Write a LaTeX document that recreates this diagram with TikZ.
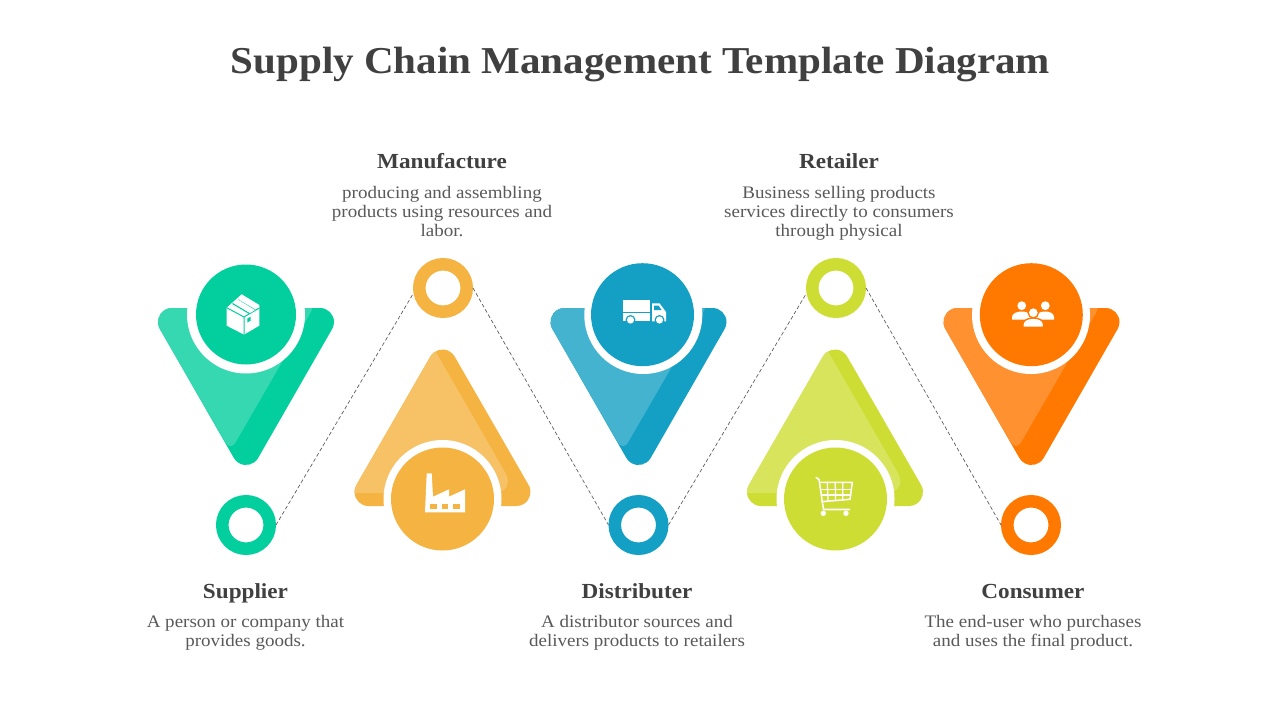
\documentclass[tikz,border=0pt]{standalone}
\usepackage{fontspec}
\setmainfont{Liberation Serif}[FakeStretch=1.08]
\usetikzlibrary{calc}
\definecolor{tc}{HTML}{404040}
\definecolor{bodyc}{HTML}{595959}
\definecolor{cg}{HTML}{03CE9E}\definecolor{lg}{HTML}{35D8B1}
\definecolor{cy}{HTML}{F5B342}\definecolor{ly}{HTML}{F6C265}
\definecolor{cb}{HTML}{14A0C4}\definecolor{lb}{HTML}{43B3CF}
\definecolor{cl}{HTML}{CEDD33}\definecolor{ll}{HTML}{D8E45C}
\definecolor{co}{HTML}{FF7800}\definecolor{lo}{HTML}{FF9130}
\tikzset{
  x=0.75pt,y=-0.75pt,
  titletext/.style={text=tc,font=\fontsize{28.5}{32}\selectfont\bfseries,inner sep=0,anchor=base},
  headtext/.style={text=tc,font=\fontsize{16.1}{19}\selectfont\bfseries,inner sep=0,anchor=base},
  bodytext/.style={text=bodyc,font=\fontsize{13.2}{14.25}\selectfont,inner sep=0,align=center,anchor=north},
  ringnode/.style={circle,draw=#1,line width=9.4pt,fill=white,minimum size=35.6pt,inner sep=0},
  dashline/.style={draw=black!65,line width=0.5pt,dash pattern=on 2.8pt off 1.8pt},
  discnode/.style={circle,fill=#1,draw=none,inner sep=0},
  halo/.style={circle,fill=white,draw=none,inner sep=0,minimum size=88.5pt},
  iconw/.style={fill=white,draw=none}
}
\newcommand{\downpath}{(-86.12,329) arc[start angle=150,end angle=270,radius=14] -- (74,308) arc[start angle=270,end angle=390,radius=14] -- (12.12,458) arc[start angle=30,end angle=150,radius=14] -- cycle}
\newcommand{\uppath}{(86.12,485) arc[start angle=-30,end angle=90,radius=14] -- (-74,506) arc[start angle=90,end angle=210,radius=14] -- (-12.12,356.5) arc[start angle=210,end angle=330,radius=14] -- cycle}
\newcommand{\triangledown}[3]{% centre x, main, light
  \begin{scope}[shift={(#1,0)}]
    \path[fill=#2] \downpath;
    \begin{scope}
      \clip \downpath;
      \path[fill=#3] (-107,293) [rounded corners=18pt] -- (76,293) [rounded corners=7.5pt] -- (-15.5,451.2) [sharp corners] -- cycle;
    \end{scope}
  \end{scope}}
\newcommand{\triangleup}[3]{%
  \begin{scope}[shift={(#1,0)}]
    \path[fill=#2] \uppath;
    \begin{scope}
      \clip \uppath;
      \path[fill=#3] (-142,493) [rounded corners=18pt] -- (74.5,493) -- (-40.5,293) [sharp corners] -- (-142,293) -- cycle;
    \end{scope}
  \end{scope}}
\begin{document}
\begin{tikzpicture}
\useasboundingbox (0,0) rectangle (1280,720);
\fill[white] (0,0) rectangle (1280,720);

\node[titletext] (title) at (640.5,74) {Supply Chain Management Template Diagram};

% shapes
\triangledown{246}{cg}{lg}
\triangleup{442.5}{cy}{ly}
\triangledown{638.5}{cb}{lb}
\triangleup{835}{cl}{ll}
\triangledown{1031.5}{co}{lo}

% halos and discs
\node[halo] (h1) at (246,314.5) {};
\node[halo] (h2) at (442.5,499) {};
\node[halo] (h3) at (643.3,315) {};
\node[halo] (h4) at (835.5,499) {};
\node[halo] (h5) at (1031,315) {};
\node[discnode=cg,minimum size=75pt] (d1) at (246,314.5) {};
\node[discnode=cy,minimum size=77.25pt] (d2) at (442.5,499) {};
\node[discnode=cb,minimum size=77.25pt] (d3) at (642.5,314.7) {};
\node[discnode=cl,minimum size=77.25pt] (d4) at (835.5,499) {};
\node[discnode=co,minimum size=77.25pt] (d5) at (1031.3,314.7) {};

% rings
\node[ringnode=cg] (r1) at (246,525) {};
\node[ringnode=cy] (r2) at (443,288) {};
\node[ringnode=cb] (r3) at (638.5,525) {};
\node[ringnode=cl] (r4) at (836,288) {};
\node[ringnode=co] (r5) at (1031,525) {};
\path[dashline] (r1.east) -- (r2.190);
\path[dashline] (r2.east) -- (r3.west);
\path[dashline] (r3.east) -- (r4.190);
\path[dashline] (r4.east) -- (r5.west);

% box icon
\path[iconw] (241.7,294.3) -- (259.3,305) -- (259.3,325.7) -- (244.5,334.3) -- (243.5,334.3) -- (226.7,325.7) -- (226.7,307.7) -- cycle;
\draw[cg,line width=0.75pt] (226.7,307.7) -- (244,317) -- (259.3,308) (244,317) -- (244,334.3);
\draw[cg,line width=0.9pt] (232.5,303.5) -- (249.5,313.5);
\draw[cg,line width=0.9pt] (238,300) -- (255,310);
\path[iconw] (233.5,303) -- (238.5,300) -- (255,310) -- (250,313) -- cycle;
\fill[cg] (247.3,318.5) -- (250.5,316.8) -- (250.5,320.8) -- (247.3,322.5) -- cycle;

% factory icon
\path[iconw] (425,512.3) -- (426.7,473.3) -- (431.7,473.3) -- (433,496.7) -- (449,489.3) -- (449,496.7) -- (465,489.3) -- (465,512.3) -- cycle;
\fill[cy] (430,503.7) rectangle (436.7,509);
\fill[cy] (441.7,503.7) rectangle (448.3,509);
\fill[cy] (453.3,503.7) rectangle (460,509);

% truck icon
\path[iconw] (623,300) rectangle (650,311.5);
\path[iconw] (623,313) rectangle (650,321.3);
\path[iconw] (652,303.3) -- (659.5,303.3) -- (666,312) -- (666,321.3) -- (652,321.3) -- cycle;
\fill[cb] (654,305.5) -- (658.5,305.5) -- (661.5,310) -- (654,310) -- cycle;
\fill[cb] (630.5,320) circle[radius=5];
\fill[cb] (659.5,320) circle[radius=5];
\fill[white] (630.5,320) circle[radius=3.6];
\fill[white] (659.5,320) circle[radius=3.6];

% cart icon
\begin{scope}[white,line width=1.15pt,line cap=round]
\draw (816,477.5) -- (819,479.5) -- (823.5,509.5) -- (849.5,509.5);
\draw (820,482.3) -- (852.3,482.3) -- (850,499.3) -- (821.7,501.7);
\draw[line width=0.95pt] (827.3,482.3) -- (828,500.8) (835.3,482.3) -- (835.5,500.2) (842.7,482.3) -- (842.7,499.9);
\draw[line width=0.95pt] (820.5,489.3) -- (851.5,489.3) (821.2,495) -- (850.7,495);
\fill (823.3,513.3) circle[radius=2.7];
\fill (846,513.3) circle[radius=2.7];
\end{scope}

% people icon
\fill[white] (1021.7,305.7) circle[radius=4.4];
\fill[white] (1045.3,305.7) circle[radius=4.4];
\path[iconw] (1012,319.5) -- (1012,317) .. controls (1012,313) and (1018,311.5) .. (1021.7,311.5) .. controls (1026,311.5) and (1031,313) .. (1031,317) -- (1031,319.5) -- cycle;
\path[iconw] (1036,319.5) -- (1036,317) .. controls (1036,313) and (1041,311.5) .. (1045.3,311.5) .. controls (1049,311.5) and (1054,313) .. (1054,317) -- (1054,319.5) -- cycle;
\path[fill=white,draw=co,line width=1pt] (1023,327.3) -- (1023,324) .. controls (1023,320) and (1029,318) .. (1033.3,318) .. controls (1038,318) and (1043.5,320) .. (1043.5,324) -- (1043.5,327.3) -- cycle;
\path[fill=white,draw=co,line width=1pt] (1033.3,312.7) circle[radius=5.2];

% labels
\node[headtext] (t1) at (245.5,598) {Supplier};
\node[bodytext] (b1) at (245.5,615) {A person or company that\\provides goods.};
\node[headtext] (t2) at (442,169) {Manufacture};
\node[bodytext] (b2) at (442,186) {producing and assembling\\products using resources and\\labor.};
\node[headtext] (t3) at (637,598) {Distributer};
\node[bodytext] (b3) at (637,615) {A distributor sources and\\delivers products to retailers};
\node[headtext] (t4) at (839,169) {Retailer};
\node[bodytext] (b4) at (839,186) {Business selling products\\services directly to consumers\\through physical};
\node[headtext] (t5) at (1033,598) {Consumer};
\node[bodytext] (b5) at (1033,615) {The end-user who purchases\\and uses the final product.};
\end{tikzpicture}
\end{document}
